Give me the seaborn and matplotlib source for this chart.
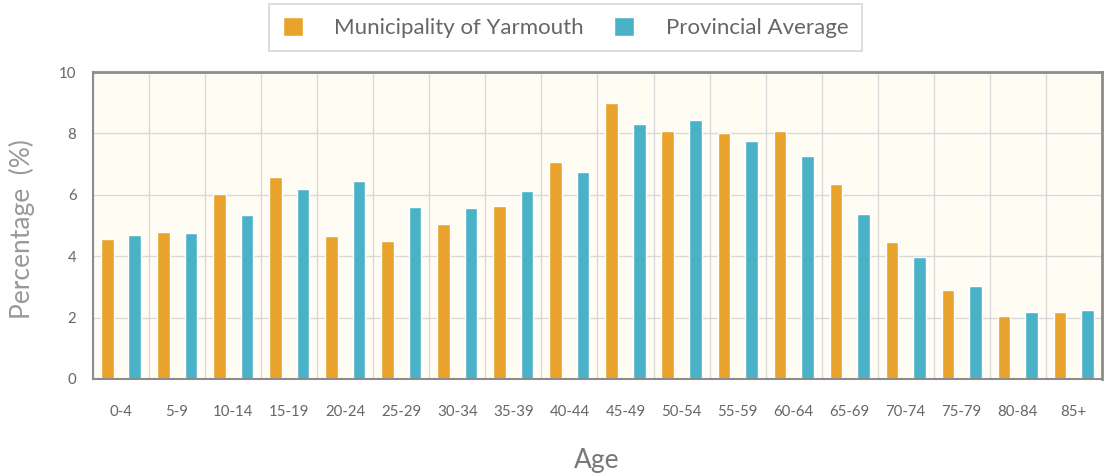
import numpy as np
import pandas as pd
import matplotlib
matplotlib.use('Agg')
import matplotlib.pyplot as plt
import seaborn as sns

# podaci ocitani sa slike
ages = ['0-4', '5-9', '10-14', '15-19', '20-24', '25-29', '30-34', '35-39', '40-44',
        '45-49', '50-54', '55-59', '60-64', '65-69', '70-74', '75-79', '80-84', '85+']
yarmouth = [4.55, 4.8, 6.03, 6.58, 4.66, 4.5, 5.05, 5.64, 7.07,
            9.0, 8.08, 8.01, 8.08, 6.35, 4.46, 2.9, 2.05, 2.18]
provincial = [4.7, 4.75, 5.35, 6.19, 6.45, 5.6, 5.57, 6.12, 6.74,
              8.3, 8.44, 7.75, 7.26, 5.37, 3.97, 3.03, 2.18, 2.25]
series = ['Municipality of Yarmouth', 'Provincial Average']

df = pd.DataFrame({'Age': ages * 2,
                   'value': yarmouth + provincial,
                   'series': [series[0]] * len(ages) + [series[1]] * len(ages)})

sns.set_style('white')
plt.rcParams['font.family'] = ['Lato', 'DejaVu Sans']
txt = '#666666'

fig = plt.figure(figsize=(11.13, 4.76), dpi=100)
ax = fig.add_axes([0.0836, 0.2038, 0.9064, 0.6449])
ax.set_facecolor('#fffcf4')

sns.barplot(data=df, x='Age', y='value', hue='series', order=ages,
            palette=['#e9a22c', '#4ab2c7'], width=0.98, gap=0.54,
            saturation=1, legend=True, ax=ax)

ax.set_xlim(-0.5, len(ages) - 0.5)
ax.set_ylim(0, 10)
ax.set_yticks([0, 2, 4, 6, 8, 10])

# vertikalne linije izmedu kategorija
ax.set_xticks(np.arange(len(ages)), ages)
ax.set_xticks(np.arange(len(ages) + 1) - 0.5, minor=True)
ax.tick_params(axis='x', which='major', length=0, pad=19, labelsize=10.8, labelcolor=txt)
ax.tick_params(axis='x', which='minor', length=9, width=1, color='#cccccc', direction='out')
ax.tick_params(axis='y', length=9, width=1, color='#bbbbbb', labelsize=10.8, labelcolor=txt, pad=3)
ax.grid(True, which='minor', axis='x', color='#d9d9d9', lw=1)
ax.grid(True, which='major', axis='y', color='#d9d9d9', lw=1)
ax.set_axisbelow(True)

for s in ['left', 'bottom']:
    ax.spines[s].set_color('#8c8c8c')
    ax.spines[s].set_linewidth(1.5)
    ax.spines[s].set_zorder(5)
for s in ['top', 'right']:
    ax.spines[s].set_color('#8c8c8c')
    ax.spines[s].set_linewidth(2)

ax.set_xlabel('Age', fontsize=19, color='#777777')
ax.xaxis.set_label_coords(0.499, -0.225)
ax.set_ylabel('Percentage  (%)', fontsize=19, color='#999999')
ax.yaxis.set_label_coords(-0.0575, 0.49)

handles, labels = ax.get_legend_handles_labels()
ax.get_legend().remove()
leg = fig.legend(handles, labels, loc='center', bbox_to_anchor=(0.508, 0.942), ncol=2,
                 fontsize=16, frameon=True, fancybox=False, edgecolor='#cccccc',
                 handlelength=0.9, handleheight=0.9, handletextpad=1.4, columnspacing=1.4,
                 borderpad=0.6, borderaxespad=0)
leg.get_frame().set_linewidth(1.2)
for t in leg.get_texts():
    t.set_color(txt)

fig.savefig('out.png', dpi=100)
